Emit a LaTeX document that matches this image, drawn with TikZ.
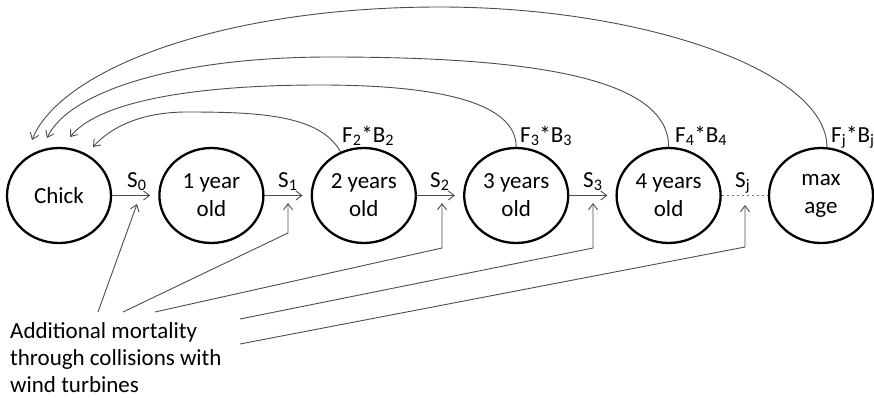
\documentclass[tikz,border=0pt]{standalone}
\usepackage{fontspec}
\setmainfont{Carlito}
\usetikzlibrary{arrows.meta,shapes.geometric}
\begin{document}
\begin{tikzpicture}[x=1pt,y=-1pt,
  stage/.style={ellipse,draw=black,line width=2.3pt,minimum width=104pt,minimum height=95pt,inner sep=0pt,align=center,font=\fontsize{23}{28}\selectfont},
  lbl/.style={font=\fontsize{23}{27}\selectfont,inner sep=0pt},
  conn/.style={draw=black!70,line width=0.9pt,-{Straight Barb[length=6pt,width=9pt]}},
  dotline/.style={draw=black!55,line width=1pt,dash pattern=on 2pt off 3pt}]
\useasboundingbox (0,0) rectangle (874,399);
% stages
\node[stage] (chick) at (59,195.5) {Chick};
\node[stage] (y1) at (211.4,195.5) {1 year\\old};
\node[stage] (y2) at (363.8,195.5) {2 years\\old};
\node[stage] (y3) at (516.2,195.5) {3 years\\old};
\node[stage] (y4) at (668.6,195.5) {4 years\\old};
\node[stage] (max) at (821,195.5) {max\\age};
% survival arrows
\draw[conn,shorten >=8pt] (chick) -- (y1);
\draw[conn,shorten >=8pt] (y1) -- (y2);
\draw[conn,shorten >=8pt] (y2) -- (y3);
\draw[conn,shorten >=8pt] (y3) -- (y4);
\draw[dotline] (y4) -- (max);
\node[lbl,anchor=base west] (s0) at (127,187) {S\textsubscript{0}};
\node[lbl,anchor=base west] (s1) at (278,187) {S\textsubscript{1}};
\node[lbl,anchor=base west] (s2) at (430,187) {S\textsubscript{2}};
\node[lbl,anchor=base west] (s3) at (583,187) {S\textsubscript{3}};
\node[lbl,anchor=base west] (sj) at (735,187) {S\textsubscript{j}};
% fecundity labels
\node[lbl,anchor=base west] (f2) at (342,142) {F\textsubscript{2}*B\textsubscript{2}};
\node[lbl,anchor=base west] (f3) at (520,142) {F\textsubscript{3}*B\textsubscript{3}};
\node[lbl,anchor=base west] (f4) at (675,142) {F\textsubscript{4}*B\textsubscript{4}};
\node[lbl,anchor=base west] (fj) at (831,142) {F\textsubscript{j}*B\textsubscript{j}};
% reproduction arcs
\coordinate (c1) at (93,147);
\coordinate (c2) at (70,137);
\coordinate (c3) at (47,138);
\coordinate (c4) at (32,140);
\draw[conn] (y2.118) .. controls (320,115) and (260,112) .. (187,112) .. controls (140,112) and (110,128) .. (c1);
\draw[conn] (y3.north) .. controls (516,100) and (430,85) .. (320,85) .. controls (200,85) and (100,100) .. (c2);
\draw[conn] (y4.north) .. controls (669,75) and (520,57) .. (330,57) .. controls (180,57) and (70,90) .. (c3);
\draw[conn] (max.83) .. controls (827,70) and (640,7) .. (440,7) .. controls (220,7) and (60,70) .. (c4);
% additional mortality
\node[lbl,align=left,anchor=north west] (note) at (10,322) {Additional mortality\\through collisions with\\wind turbines};
\coordinate (b0) at (98,312);
\coordinate (b1) at (123,312);
\coordinate (b2) at (155,312);
\coordinate (b3) at (240,319);
\coordinate (b4) at (240,344);
\coordinate (k1) at (288,233);
\coordinate (k2) at (442,248);
\coordinate (k3) at (593,248);
\coordinate (k4) at (745,247);
\coordinate (m0) at (137,204);
\coordinate (m1) at (288,203);
\coordinate (m2) at (442,203);
\coordinate (m3) at (593,203);
\coordinate (m4) at (745,205);
\draw[conn] (b0) -- (m0);
\draw[conn] (b1) -- (k1) -- (m1);
\draw[conn] (b2) -- (k2) -- (m2);
\draw[conn] (b3) -- (k3) -- (m3);
\draw[conn] (b4) -- (k4) -- (m4);
\end{tikzpicture}
\end{document}
